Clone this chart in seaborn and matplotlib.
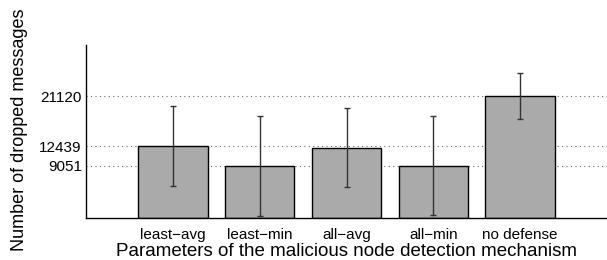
import numpy as np
import pandas as pd
import matplotlib
matplotlib.use('Agg')
import matplotlib.pyplot as plt
import seaborn as sns

# values
configs = ['least\u2212avg', 'least\u2212min', 'all\u2212avg', 'all\u2212min', 'no defense']
dropped_mean = [12439, 9051, 12150, 9080, 21120]
dropped_err = [6900, 8700, 6850, 8560, 4000]
ytick_vals = [9051, 12439, 21120]

sns.set_style('white')
plt.rcParams['font.family'] = ['Liberation Sans', 'DejaVu Sans']
plt.rcParams['text.color'] = 'black'
plt.rcParams['axes.labelcolor'] = 'black'

df = pd.DataFrame({'config': configs, 'dropped': dropped_mean})

fig = plt.figure(figsize=(6.07, 2.60), dpi=100)
ax = fig.add_axes([0.1417, 0.1615, 0.8583, 0.6654])

sns.barplot(data=df, x='config', y='dropped', color='#aaaaaa', saturation=1,
            edgecolor='black', linewidth=1.0, width=0.8, ax=ax, zorder=2)
ax.errorbar(np.arange(len(configs)), dropped_mean, yerr=dropped_err, fmt='none',
            ecolor='#333333', elinewidth=1.0, capsize=2.5, capthick=1.0, zorder=3)

ax.set_xlim(-1, len(configs))
ax.set_ylim(0, 30000)
ax.set_yticks(ytick_vals)
ax.set_yticklabels([str(v) for v in ytick_vals])
ax.yaxis.grid(True, linestyle=(0, (1, 3)), color='#666666', linewidth=0.8, zorder=0)
ax.set_axisbelow(True)

for s in ['top', 'right']:
    ax.spines[s].set_visible(False)
for s in ['left', 'bottom']:
    ax.spines[s].set_color('black')
    ax.spines[s].set_linewidth(1.0)

ax.tick_params(axis='both', labelsize=11, length=3, direction='in', pad=3,
               colors='black', labelcolor='black')
ax.tick_params(axis='x', length=0, pad=7)

ax.set_xlabel('Parameters of the malicious node detection mechanism', fontsize=13.5, labelpad=1)
ax.set_ylabel('Number of dropped messages', fontsize=13)
ax.yaxis.set_label_coords(-0.112, 0.51)

fig.savefig('out.png', dpi=100)
